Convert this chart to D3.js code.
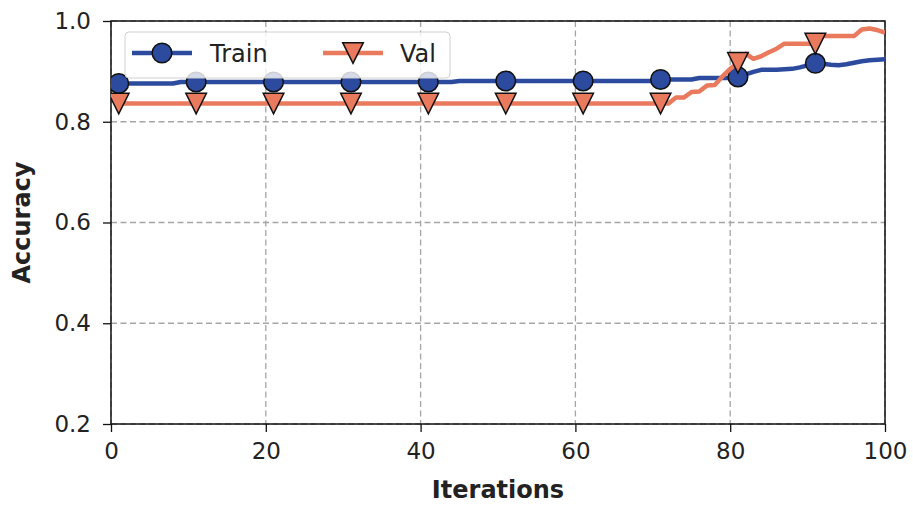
<!DOCTYPE html>
<html>
<head>
<meta charset="utf-8">
<script src="https://cdn.jsdelivr.net/npm/d3@7"></script>
<style>
    body { margin: 0; background: #fff; }
    svg text { font-family: "DejaVu Sans", sans-serif; fill: #222; }
</style>
</head>
<body>
<div id="chart"></div>
<script>

// x values: iterations 1..100
const iterations = d3.range(1, 101);

// accuracy per iteration (rows of 10)
const trainAcc = [
    0.876, 0.876, 0.876, 0.876, 0.876, 0.876, 0.876, 0.876, 0.879, 0.879,
    0.879, 0.879, 0.879, 0.879, 0.879, 0.879, 0.879, 0.879, 0.879, 0.879,
    0.879, 0.879, 0.879, 0.879, 0.879, 0.879, 0.879, 0.879, 0.879, 0.879,
    0.879, 0.879, 0.879, 0.879, 0.879, 0.879, 0.879, 0.879, 0.879, 0.879,
    0.879, 0.879, 0.879, 0.879, 0.881, 0.881, 0.881, 0.881, 0.881, 0.881,
    0.881, 0.881, 0.881, 0.881, 0.881, 0.881, 0.881, 0.881, 0.881, 0.881,
    0.881, 0.881, 0.881, 0.881, 0.881, 0.881, 0.881, 0.881, 0.881, 0.881,
    0.884, 0.884, 0.884, 0.884, 0.884, 0.887, 0.887, 0.887, 0.887, 0.887,
    0.889, 0.894, 0.899, 0.903, 0.903, 0.903, 0.904, 0.905, 0.908, 0.912,
    0.916, 0.915, 0.913, 0.912, 0.914, 0.917, 0.920, 0.922, 0.923, 0.924
];

const valAcc = [
    0.836, 0.836, 0.836, 0.836, 0.836, 0.836, 0.836, 0.836, 0.836, 0.836,
    0.836, 0.836, 0.836, 0.836, 0.836, 0.836, 0.836, 0.836, 0.836, 0.836,
    0.836, 0.836, 0.836, 0.836, 0.836, 0.836, 0.836, 0.836, 0.836, 0.836,
    0.836, 0.836, 0.836, 0.836, 0.836, 0.836, 0.836, 0.836, 0.836, 0.836,
    0.836, 0.836, 0.836, 0.836, 0.836, 0.836, 0.836, 0.836, 0.836, 0.836,
    0.836, 0.836, 0.836, 0.836, 0.836, 0.836, 0.836, 0.836, 0.836, 0.836,
    0.836, 0.836, 0.836, 0.836, 0.836, 0.836, 0.836, 0.836, 0.836, 0.836,
    0.836, 0.836, 0.848, 0.848, 0.859, 0.860, 0.872, 0.873, 0.890, 0.905,
    0.917, 0.935, 0.925, 0.930, 0.938, 0.945, 0.955, 0.955, 0.955, 0.955,
    0.955, 0.970, 0.970, 0.970, 0.970, 0.970, 0.983, 0.985, 0.982, 0.977
];

const xTicks = [0, 20, 40, 60, 80, 100];
const yTicks = [0.2, 0.4, 0.6, 0.8, 1.0];
const markEvery = 10;

class AccuracyChart {

    constructor(_parentElement) {
        this.parentElement = _parentElement;
        this.series = [
            {name: "Train", values: trainAcc, color: "#2d4b9e", marker: "circle"},
            {name: "Val", values: valAcc, color: "#e97a5e", marker: "triangle"}
        ];
        this.initVis();
    }

    initVis() {
        let vis = this;

        vis.margin = {top: 21, right: 28, bottom: 82, left: 111};
        vis.width = 913 - vis.margin.left - vis.margin.right;
        vis.height = 506 - vis.margin.top - vis.margin.bottom;

        vis.svg = d3.select(`#${vis.parentElement}`)
            .append("svg")
            .attr("width", 913)
            .attr("height", 506)
            .append("g")
            .attr("transform", `translate(${vis.margin.left}, ${vis.margin.top})`);

        vis.svg.append("clipPath")
            .attr("id", "plot-clip")
            .append("rect")
            .attr("width", vis.width)
            .attr("height", vis.height);

        // Scales
        vis.x = d3.scaleLinear().domain([0, 100]).range([0, vis.width]);
        vis.y = d3.scaleLinear().domain([0.2, 1.0]).range([vis.height, 0]);

        // Grid
        vis.svg.selectAll(".vgrid")
            .data(xTicks)
            .enter().append("line")
            .attr("class", "vgrid")
            .attr("x1", d => vis.x(d)).attr("x2", d => vis.x(d))
            .attr("y1", 0).attr("y2", vis.height)
            .attr("stroke", "#a5a5a5")
            .attr("stroke-width", 1.3)
            .attr("stroke-dasharray", "6,3.5");

        vis.svg.selectAll(".hgrid")
            .data(yTicks)
            .enter().append("line")
            .attr("class", "hgrid")
            .attr("x1", 0).attr("x2", vis.width)
            .attr("y1", d => vis.y(d)).attr("y2", d => vis.y(d))
            .attr("stroke", "#a5a5a5")
            .attr("stroke-width", 1.3)
            .attr("stroke-dasharray", "6,3.5");

        // Axes (ticks + labels only, frame is drawn separately)
        vis.svg.append("g")
            .attr("class", "x-axis")
            .attr("transform", `translate(0, ${vis.height})`)
            .call(d3.axisBottom(vis.x).tickValues(xTicks).tickSize(8).tickPadding(11).tickFormat(d3.format("d")));

        vis.svg.append("g")
            .attr("class", "y-axis")
            .call(d3.axisLeft(vis.y).tickValues(yTicks).tickSize(8).tickPadding(12).tickFormat(d3.format(".1f")));

        vis.svg.selectAll(".x-axis, .y-axis").select(".domain").remove();
        vis.svg.selectAll(".x-axis line, .y-axis line").attr("stroke", "#111").attr("stroke-width", 1.3);
        vis.svg.selectAll(".x-axis text, .y-axis text")
            .attr("font-size", 23)
            .attr("font-family", "DejaVu Sans")
            .attr("fill", "#222");

        // Frame
        vis.svg.append("rect")
            .attr("width", vis.width)
            .attr("height", vis.height)
            .attr("fill", "none")
            .attr("stroke", "#111")
            .attr("stroke-width", 1.5);

        // Lines and markers
        vis.line = d3.line()
            .x((d, i) => vis.x(iterations[i]))
            .y(d => vis.y(d));

        vis.plot = vis.svg.append("g").attr("clip-path", "url(#plot-clip)");

        vis.series.forEach(s => {
            vis.plot.append("path")
                .datum(s.values)
                .attr("fill", "none")
                .attr("stroke", s.color)
                .attr("stroke-width", 4.5)
                .attr("stroke-linejoin", "round")
                .attr("d", vis.line);

            let marks = s.values
                .map((v, i) => ({it: iterations[i], v: v, i: i}))
                .filter(d => d.i % markEvery === 0);

            vis.drawMarkers(vis.plot, marks.map(d => [vis.x(d.it), vis.y(d.v)]), s);
        });

        // Axis titles
        vis.svg.append("text")
            .attr("x", vis.width / 2)
            .attr("y", 477)
            .attr("text-anchor", "middle")
            .attr("font-size", 24)
            .attr("font-weight", "bold")
            .text("Iterations");

        vis.svg.append("text")
            .attr("transform", `translate(${30 - vis.margin.left}, ${vis.height / 2}) rotate(-90)`)
            .attr("text-anchor", "middle")
            .attr("font-size", 24)
            .attr("font-weight", "bold")
            .text("Accuracy");

        vis.drawLegend();
    }

    drawMarkers(g, points, s) {
        if (s.marker === "circle") {
            g.selectAll(null)
                .data(points)
                .enter().append("circle")
                .attr("cx", d => d[0])
                .attr("cy", d => d[1])
                .attr("r", 9.8)
                .attr("fill", s.color)
                .attr("stroke", "#111")
                .attr("stroke-width", 1.5);
        } else {
            // downward triangle, bbox centred on the point
            let h = 10.3;
            g.selectAll(null)
                .data(points)
                .enter().append("path")
                .attr("d", d => `M${d[0] - h},${d[1] - h}L${d[0] + h},${d[1] - h}L${d[0]},${d[1] + h}Z`)
                .attr("fill", s.color)
                .attr("stroke", "#111")
                .attr("stroke-width", 1.5)
                .attr("stroke-linejoin", "miter");
        }
    }

    drawLegend() {
        let vis = this;

        let lg = vis.svg.append("g")
            .attr("transform", `translate(${125 - vis.margin.left}, ${32 - vis.margin.top})`);

        lg.append("rect")
            .attr("width", 325)
            .attr("height", 46)
            .attr("rx", 4)
            .attr("fill", "#fff")
            .attr("fill-opacity", 0.8)
            .attr("stroke", "#d0d0d0")
            .attr("stroke-width", 1);

        let entries = [
            {s: vis.series[0], x0: 7, tx: 85},
            {s: vis.series[1], x0: 198, tx: 275}
        ];

        entries.forEach(e => {
            lg.append("line")
                .attr("x1", e.x0).attr("x2", e.x0 + 60)
                .attr("y1", 21).attr("y2", 21)
                .attr("stroke", e.s.color)
                .attr("stroke-width", 4.5);

            vis.drawMarkers(lg, [[e.x0 + 30, 21]], e.s);

            lg.append("text")
                .attr("x", e.tx)
                .attr("y", 30)
                .attr("font-size", 24)
                .text(e.s.name);
        });
    }
}

new AccuracyChart("chart");

</script>
</body>
</html>
